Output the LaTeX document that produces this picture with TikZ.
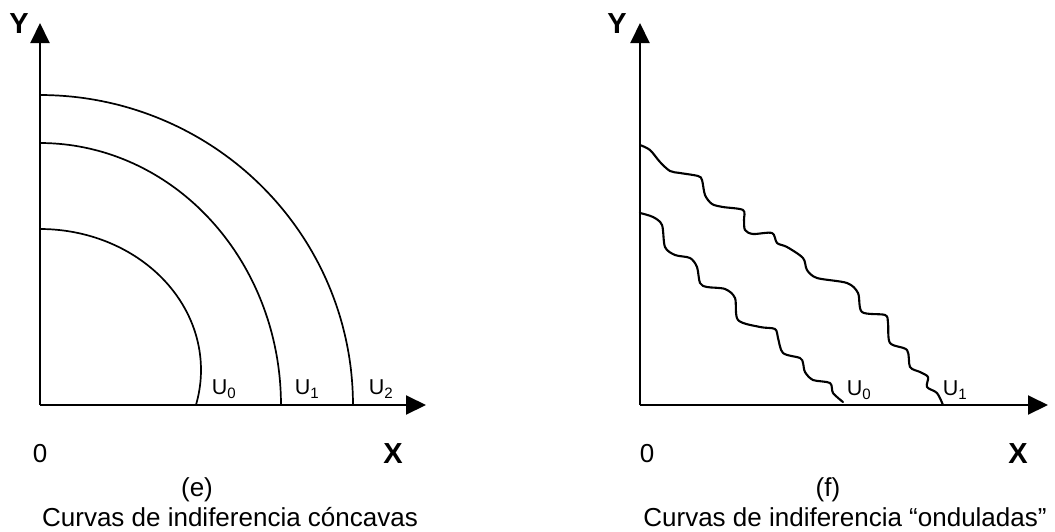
\documentclass[tikz,border=0pt]{standalone}
\usepackage{fontspec}
\setmainfont{Liberation Sans}
\usetikzlibrary{arrows.meta}
\begin{document}
\begin{tikzpicture}[x=1pt,y=-1pt,
  axis/.style={line width=2pt, -{Triangle[length=20pt,width=19pt]}},
  curve/.style={line width=1.7pt},
  wavy/.style={line width=2.1pt, line join=round, line cap=round},
  lab/.style={font=\fontsize{26}{30}\selectfont, inner sep=0pt},
  axlab/.style={font=\fontsize{29}{32}\selectfont\bfseries, inner sep=0pt},
  ulab/.style={font=\fontsize{21.5}{24}\selectfont, inner sep=0pt}]
\useasboundingbox (0,0) rectangle (1055,531);
% ---------- left panel (e) ----------
\coordinate (O1) at (40,405);
\coordinate (Y1) at (40,23);
\coordinate (X1) at (426,405);
\draw[curve] plot[domain=90:-14.4, samples=80] ({40+161*cos(\x)},{370-141*sin(\x)});
\draw[curve] plot[domain=90:0, samples=80] ({40+241*cos(\x)},{405-262*sin(\x)});
\draw[curve] plot[domain=90:0, samples=80] ({40+313*cos(\x)},{405-310*sin(\x)});
\draw[axis] (O1) -- (Y1);
\draw[axis] (O1) -- (X1);
\node[axlab] (ylab1) at (19,24) {Y};
\node[axlab] (xlab1) at (393,454) {X};
\node[lab] (zero1) at (40,454) {0};
\node[ulab] (u0e) at (224,389) {U\textsubscript{0}};
\node[ulab] (u1e) at (307,389) {U\textsubscript{1}};
\node[ulab] (u2e) at (381,389) {U\textsubscript{2}};
\node[lab] (tage) at (197,490) {(e)};
\node[lab] (cape) at (230,517) {Curvas de indiferencia cóncavas};
% ---------- right panel (f) ----------
\coordinate (O2) at (640,405);
\coordinate (Y2) at (640,23);
\coordinate (X2) at (1048,405);
\draw[wavy] plot[smooth, tension=0.5] coordinates {
 (640,145) (650,150) (660,162) (670,171) (680,173) (698,176) (702,180)
 (705,195) (712,204) (723,207) (743,210) (744,220) (745,230) (753,234)
 (772,233) (777,243) (787,247) (803,258) (807,270) (817,278) (847,283)
 (858,293) (862,312) (885,315) (888,323) (890,343) (907,350) (910,367)
 (920,372) (928,377) (927,387) (937,393) (943,405)};
\draw[wavy] plot[smooth, tension=0.5] coordinates {
 (640,213) (653,217) (662,225) (665,247) (675,255) (690,258) (697,267)
 (700,283) (707,287) (725,289) (735,298) (738,320) (760,327) (775,329)
 (778,338) (783,353) (800,358) (803,363) (805,372) (813,380) (830,383)
 (833,393) (843,402)};
\draw[axis] (O2) -- (Y2);
\draw[axis] (O2) -- (X2);
\node[axlab] (ylab2) at (617,24) {Y};
\node[axlab] (xlab2) at (1018,454) {X};
\node[lab] (zero2) at (647,454) {0};
\node[ulab] (u0f) at (859,390) {U\textsubscript{0}};
\node[ulab] (u1f) at (955,390) {U\textsubscript{1}};
\node[lab] (tagf) at (828,490) {(f)};
\node[lab] (capf) at (845,517) {Curvas de indiferencia “onduladas”};
\end{tikzpicture}
\end{document}
